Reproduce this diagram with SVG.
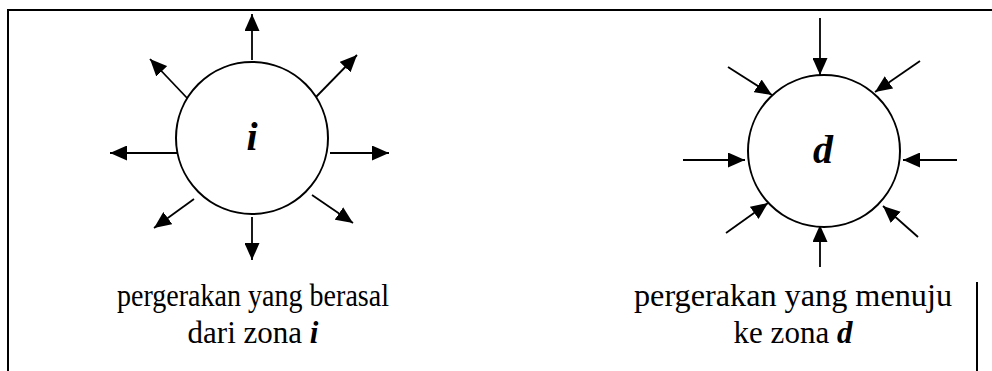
<svg xmlns="http://www.w3.org/2000/svg" width="992" height="371" viewBox="0 0 992 371">
<style>
.frame{fill:none;stroke:#000;stroke-width:2}
.zone{fill:#fff;stroke:#000;stroke-width:2}
.arr{stroke:#000;stroke-width:1.8;fill:none;marker-end:url(#ah)}
.sym{font-family:"Liberation Serif","Times New Roman",serif;font-weight:bold;font-style:italic;font-size:40px;text-anchor:middle;fill:#000}
.lbl{font-family:"Liberation Serif","Times New Roman",serif;font-size:31px;text-anchor:middle;fill:#000}
.bi{font-weight:bold;font-style:italic}
</style>
<defs>
<marker id="ah" markerUnits="userSpaceOnUse" markerWidth="18" markerHeight="15" refX="17" refY="7.5" orient="auto" viewBox="0 0 18 15">
<path d="M0,0 L17,7.5 L0,15 z" fill="#000"/>
</marker>
</defs>
<rect width="992" height="371" fill="#fff"/>
<path class="frame" d="M8,371 L8,10 L992,10"/>
<line class="frame" x1="977" y1="282" x2="977" y2="371"/>
<g id="connectors">
<line class="arr" x1="252" y1="60" x2="252" y2="14"/>
<line class="arr" x1="252" y1="217" x2="252" y2="260"/>
<line class="arr" x1="177" y1="153" x2="110" y2="153"/>
<line class="arr" x1="330" y1="153" x2="389" y2="153"/>
<line class="arr" x1="188" y1="99" x2="150" y2="59"/>
<line class="arr" x1="315" y1="98" x2="357" y2="55"/>
<line class="arr" x1="194" y1="199" x2="154" y2="228"/>
<line class="arr" x1="312" y1="195" x2="353" y2="223"/>
<line class="arr" x1="820" y1="18" x2="820" y2="75"/>
<line class="arr" x1="920" y1="61" x2="875" y2="92"/>
<line class="arr" x1="728" y1="67" x2="772" y2="95"/>
<line class="arr" x1="683" y1="160" x2="745" y2="160"/>
<line class="arr" x1="957" y1="160" x2="903" y2="160"/>
<line class="arr" x1="726" y1="233" x2="768" y2="203"/>
<line class="arr" x1="918" y1="237" x2="883" y2="206"/>
<line class="arr" x1="820" y1="267" x2="820" y2="225"/>
</g>
<g id="zone-i">
<circle class="zone" cx="252" cy="138" r="76"/>
<text class="sym" x="252" y="150">i</text>
</g>
<g id="zone-d">
<circle class="zone" cx="824" cy="151" r="76"/>
<text class="sym" x="823" y="163">d</text>
</g>
<g id="label-i">
<text class="lbl" x="253" y="306" textLength="272" lengthAdjust="spacingAndGlyphs">pergerakan yang berasal</text>
<text class="lbl" x="253" y="343">dari zona <tspan class="bi">i</tspan></text>
</g>
<g id="label-d">
<text class="lbl" x="793" y="306" textLength="318" lengthAdjust="spacingAndGlyphs">pergerakan yang menuju</text>
<text class="lbl" x="793" y="343">ke zona <tspan class="bi">d</tspan></text>
</g>
</svg>
